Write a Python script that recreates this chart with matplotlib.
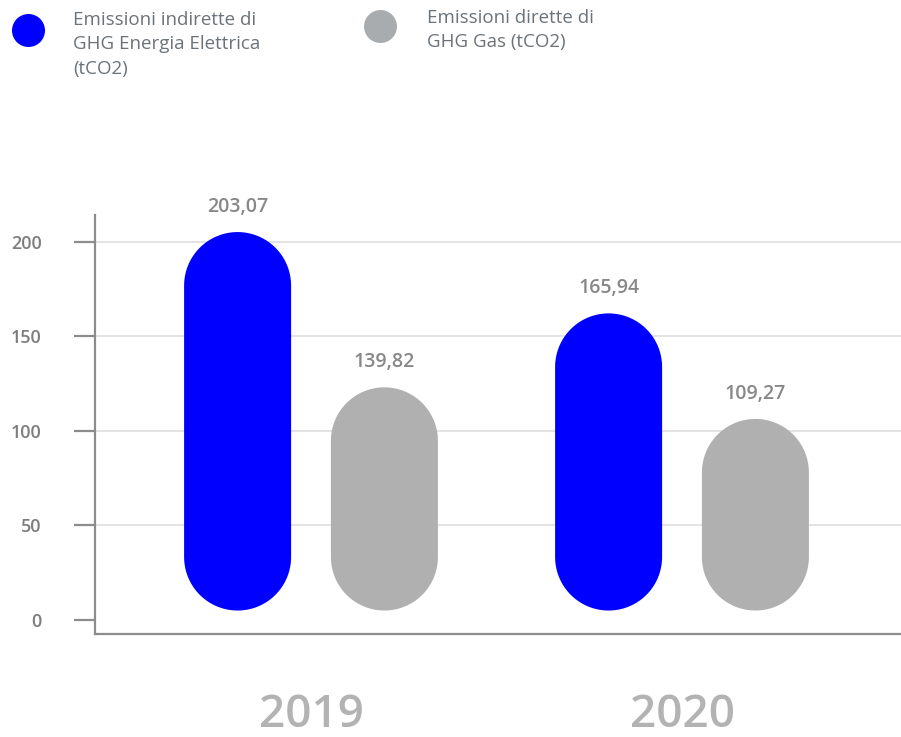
import matplotlib
matplotlib.use("Agg")
import matplotlib.pyplot as plt
from matplotlib.patches import Polygon
from matplotlib.lines import Line2D
import numpy as np

plt.rcParams['font.family'] = ['Open Sans', 'DejaVu Sans']

# ---------------- data ----------------
years = ['2019', '2020']
series_names = ['Emissioni indirette di\nGHG Energia Elettrica\n(tCO2)',
                'Emissioni dirette di\nGHG Gas (tCO2)']
# printed values (labels above the bars)
energia_values = [203.07, 165.94]
gas_values = [139.82, 109.27]
# bar heights as drawn on the y axis of the reference
energia_heights = [205.1, 162.1]
gas_heights = [123.0, 106.3]
y_ticks = [0, 50, 100, 150, 200]

# ---------------- style ----------------
W, H = 901, 737
DPI = 100
blue = '#0000ff'
gray_bar = '#b0b0b0'
gray_leg = '#a9acaf'
axis_col = '#8c8c8c'
grid_col = '#dedede'
tick_txt = '#7d7d7d'
val_txt = '#888888'
year_txt = '#b3b3b3'
leg_txt = '#6b737a'

fig = plt.figure(figsize=(W / DPI, H / DPI), dpi=DPI)

def fx(px):
    return px / W

def fy(py):
    return (H - py) / H

ax_left, ax_right, ax_top, ax_bottom = 95, 901, 215, 634.3
ax = fig.add_axes([fx(ax_left), fy(ax_bottom), fx(ax_right - ax_left), (ax_bottom - ax_top) / H])

px_per_unit = (620 - 241.7) / 200.0
ax.set_ylim(-(ax_bottom - 620) / px_per_unit, (620 - ax_top) / px_per_unit)

group_px = 371.0
x_left_lim = -(311 - ax_left) / group_px
ax.set_xlim(x_left_lim, x_left_lim + (ax_right - ax_left) / group_px)

offset = 73.4 / group_px
bar_w = 107.0 / group_px
base = 5.0  # bars start slightly above zero, as in the reference

fig.canvas.draw()
# radius of the round caps in data units (circular in pixels)
x_px_per_unit = group_px
ry = (bar_w / 2) * x_px_per_unit / px_per_unit
rx = bar_w / 2

def pill(xc, top, color):
    th_top = np.linspace(0, np.pi, 60)
    th_bot = np.linspace(np.pi, 2 * np.pi, 60)
    cy_top = top - ry
    cy_bot = base + ry
    pts_top = np.column_stack([xc + rx * np.cos(th_top), cy_top + ry * np.sin(th_top)])
    pts_bot = np.column_stack([xc + rx * np.cos(th_bot), cy_bot + ry * np.sin(th_bot)])
    poly = Polygon(np.vstack([pts_top, pts_bot]), closed=True, facecolor=color,
                   edgecolor='none', zorder=3)
    ax.add_patch(poly)

def fmt(v):
    return f"{v:.2f}".replace('.', ',')

for i, yr in enumerate(years):
    for xs, h, v, c in [(i - offset, energia_heights[i], energia_values[i], blue),
                        (i + offset, gas_heights[i], gas_values[i], gray_bar)]:
        pill(xs, h, c)
        ax.annotate(fmt(v), (xs, h), xytext=(0, 18), textcoords='offset points',
                    ha='center', va='center', fontsize=14, fontweight='semibold',
                    color=val_txt, zorder=4)

# axes styling
for s in ['top', 'right']:
    ax.spines[s].set_visible(False)
for s in ['left', 'bottom']:
    ax.spines[s].set_color(axis_col)
    ax.spines[s].set_linewidth(1.6)

ax.set_yticks(y_ticks)
ax.set_yticklabels([str(t) for t in y_ticks])
ax.tick_params(axis='y', length=15, width=1.6, color=axis_col, pad=23.5,
               labelsize=13, labelcolor=tick_txt)
for lab in ax.get_yticklabels():
    lab.set_fontweight('semibold')

ax.set_xticks([0, 1])
ax.set_xticklabels(years)
ax.tick_params(axis='x', length=0, pad=42, labelsize=33, labelcolor=year_txt)
for lab in ax.get_xticklabels():
    lab.set_fontweight('semibold')

ax.yaxis.grid(True, color=grid_col, linewidth=1.2, zorder=0)
ax.set_axisbelow(True)
ax.yaxis.get_gridlines()[0].set_visible(False)

# legend (manual, to match layout)
leg_items = [(27.5, 29.5, 73.3, 11.0, blue, series_names[0]),
             (380.0, 25.8, 427.3, 8.6, gray_leg, series_names[1])]
for cx, cy, tx, ty, col, name in leg_items:
    fig.add_artist(Line2D([fx(cx)], [fy(cy)], marker='o', markersize=33 * 72 / DPI,
                          markerfacecolor=col, markeredgecolor='none', linestyle='none',
                          transform=fig.transFigure))
    fig.text(fx(tx), fy(ty), name, ha='left', va='top', fontsize=13.5,
             color=leg_txt, linespacing=1.45)

fig.savefig('out.png', dpi=DPI)
